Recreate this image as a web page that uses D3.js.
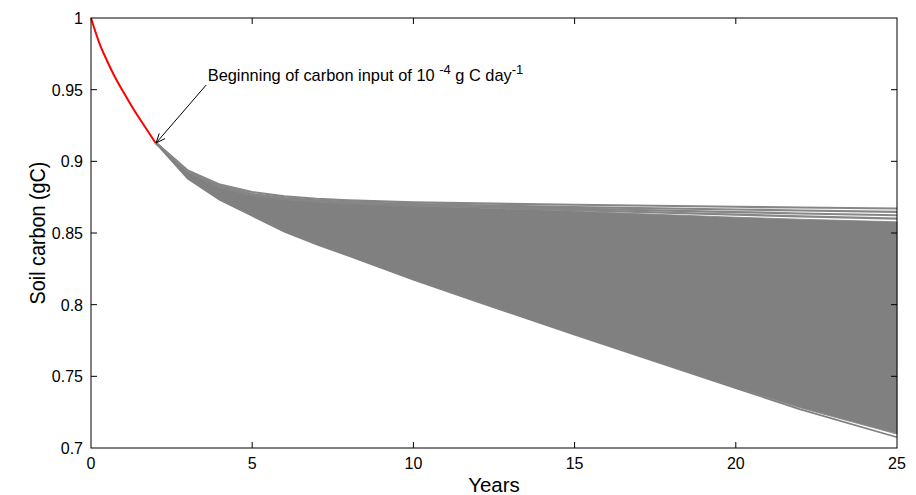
<!DOCTYPE html>
<html><head><meta charset="utf-8">
<script src="https://cdn.jsdelivr.net/npm/d3@7"></script>
<style>
body{margin:0;background:#fff;}
text{font-family:"Liberation Sans",Arial,Helvetica,sans-serif;}
</style></head>
<body><svg id="c" width="916" height="495"></svg>
<script>
// ---- data ----
const xTicks = [0,5,10,15,20,25];
const yTicks = [0.7,0.75,0.8,0.85,0.9,0.95,1];
const yTickLabels = ["0.7","0.75","0.8","0.85","0.9","0.95","1"];

// spin-up decay before input (red)
const redYears  = [0,0.25,0.5,0.75,1,1.25,1.5,1.75,2];
const redValues = [1,0.983,0.970,0.9585,0.9485,0.939,0.930,0.9215,0.913];

// ensemble years
const years = [2,3,4,5,6,7,8,10,12,15,20,22,25];
// distinct upper runs
const lineA = [0.913,0.8936,0.8837,0.8786,0.8756,0.8739,0.8728,0.8713,0.8706,0.8697,0.8683,0.8678,0.8671];
const lineB = [0.913,0.8933,0.8827,0.8772,0.8744,0.8727,0.8716,0.8702,0.8693,0.8681,0.8664,0.8657,0.8648];
const lineC = [0.913,0.8931,0.8824,0.8768,0.8740,0.8723,0.8712,0.8697,0.8686,0.8670,0.8646,0.8636,0.8624];
const lineD = [0.913,0.8929,0.8821,0.8765,0.8737,0.8720,0.8709,0.8693,0.8680,0.8660,0.8628,0.8616,0.8600];
// dense band (upper and lower envelopes of the many runs)
const bandTop    = [0.913,0.8926,0.8818,0.8762,0.8734,0.8717,0.8706,0.8689,0.8674,0.8651,0.8610,0.8596,0.8578];
const bandBottom = [0.913,0.8883,0.8733,0.8623,0.8513,0.8423,0.8343,0.8178,0.8023,0.7793,0.7422,0.7280,0.7097];
// lowest run
const lineLow    = [0.913,0.8880,0.8730,0.8620,0.8510,0.8420,0.8340,0.8175,0.8020,0.7790,0.7418,0.7270,0.7075];

// annotation anchors (data coords)
const annText = "Beginning of carbon input of 10";
const arrowFrom = [3.57,0.9532];
const arrowTo   = [2.02,0.9128];
const textAt    = [3.62,0.9562];

// ---- layout ----
const W=916,H=495, m={l:91,r:19,t:18,b:47};
const svg=d3.select("#c");
const x=d3.scaleLinear().domain([0,25]).range([m.l,W-m.r]);
const y=d3.scaleLinear().domain([0.7,1]).range([H-m.b,m.t]);

const g=svg.append("g");
// band
const band = years.map((yr,i)=>({x:yr,y0:bandBottom[i],y1:bandTop[i]}));
g.append("path").datum(band)
 .attr("d",d3.area().x(d=>x(d.x)).y0(d=>y(d.y0)).y1(d=>y(d.y1)))
 .attr("fill","#808080").attr("stroke","#808080").attr("stroke-width",0.8);

const line=d3.line().x(d=>x(d[0])).y(d=>y(d[1]));
[lineA,lineB,lineC,lineD].forEach(s=>{
  g.append("path").datum(years.map((yr,i)=>[yr,s[i]]))
   .attr("d",line).attr("fill","none").attr("stroke","#868686").attr("stroke-width",2.2);
});
g.append("path").datum(years.map((yr,i)=>[yr,lineLow[i]]))
 .attr("d",line).attr("fill","none").attr("stroke","#808080").attr("stroke-width",1.8);

// red
g.append("path").datum(redYears.map((yr,i)=>[yr,redValues[i]]))
 .attr("d",line.curve(d3.curveMonotoneX)).attr("fill","none").attr("stroke","#ff0000").attr("stroke-width",2);

// frame
svg.append("rect").attr("x",m.l).attr("y",m.t).attr("width",W-m.l-m.r).attr("height",H-m.t-m.b)
 .attr("fill","none").attr("stroke","#000").attr("stroke-width",1);

const tl=6;
const ax=svg.append("g").attr("stroke","#000").attr("stroke-width",1);
xTicks.forEach(t=>{
  if(t===0||t===25) return;
  ax.append("line").attr("x1",x(t)).attr("x2",x(t)).attr("y1",y(0.7)).attr("y2",y(0.7)-tl);
  ax.append("line").attr("x1",x(t)).attr("x2",x(t)).attr("y1",y(1)).attr("y2",y(1)+tl);
});
yTicks.forEach(t=>{
  if(t===0.7||t===1) return;
  ax.append("line").attr("x1",x(0)).attr("x2",x(0)+tl).attr("y1",y(t)).attr("y2",y(t));
  ax.append("line").attr("x1",x(25)).attr("x2",x(25)-tl).attr("y1",y(t)).attr("y2",y(t));
});

// tick labels
const lab=svg.append("g").attr("font-size",16).attr("fill","#000");
xTicks.forEach(t=>{
  lab.append("text").attr("x",x(t)).attr("y",y(0.7)+21)
   .attr("text-anchor","middle").text(t);
});
yTicks.forEach((t,i)=>{
  lab.append("text").attr("x",x(0)-8).attr("y",y(t)+6)
   .attr("text-anchor","end").text(yTickLabels[i]);
});

// axis titles
svg.append("text").attr("x",(x(0)+x(25))/2).attr("y",H-3)
 .attr("text-anchor","middle").attr("font-size",20.5).text("Years");
svg.append("text").attr("transform",`translate(45,${(y(0.7)+y(1))/2}) rotate(-90) scale(0.9,1)`)
 .attr("text-anchor","middle").attr("font-size",22).text("Soil carbon (gC)");

// annotation
const at=svg.append("text").attr("x",x(textAt[0])).attr("y",y(textAt[1])).attr("font-size",16.4);
at.append("tspan").text(annText+" ");
at.append("tspan").attr("dy",-6.5).attr("font-size",13).text("-4");
at.append("tspan").attr("dy",6.5).text(" g C day");
at.append("tspan").attr("dy",-6.5).attr("font-size",13).text("-1");

const x1=x(arrowFrom[0]),y1=y(arrowFrom[1]),x2=x(arrowTo[0]),y2=y(arrowTo[1]);
svg.append("line").attr("x1",x1).attr("y1",y1).attr("x2",x2).attr("y2",y2).attr("stroke","#000").attr("stroke-width",1);
const ang=Math.atan2(y2-y1,x2-x1), hl=10, ha=0.4;
svg.append("path").attr("d",`M${x2-hl*Math.cos(ang-ha)},${y2-hl*Math.sin(ang-ha)}L${x2},${y2}L${x2-hl*Math.cos(ang+ha)},${y2-hl*Math.sin(ang+ha)}`)
 .attr("fill","none").attr("stroke","#000").attr("stroke-width",1);
</script></body></html>
